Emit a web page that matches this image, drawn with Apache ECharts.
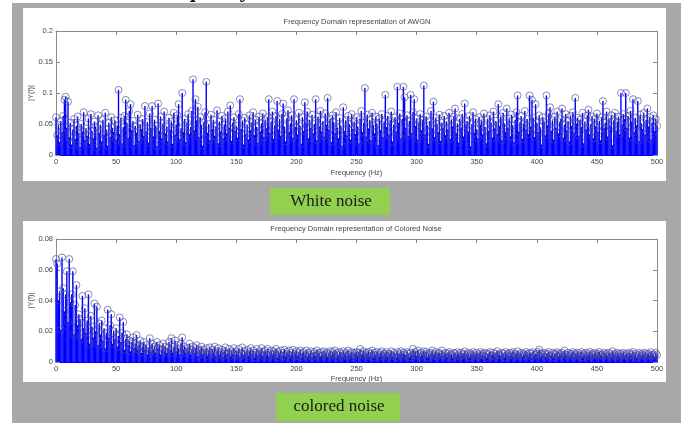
<!DOCTYPE html>
<html><head><meta charset="utf-8">
<script src="https://cdn.jsdelivr.net/npm/echarts@6/dist/echarts.min.js"></script>
<style>html,body{margin:0;padding:0;background:#fff}#c{width:685px;height:423px}</style>
</head><body><div id="c"></div>
<script>
// ---- data ----
const freqTicks = [0, 50, 100, 150, 200, 250, 300, 350, 400, 450, 500];
const whiteYTicks = ['0', '0.05', '0.1', '0.15', '0.2'];
const coloredYTicks = ['0', '0.02', '0.04', '0.06', '0.08'];
const titles = ['Frequency Domain representation of AWGN', 'Frequency Domain representation of Colored Noise'];
const boxLabels = ['White noise', 'colored noise'];
const xName = 'Frequency (Hz)';
const yName = '|Y(f)|';

// |Y(f)| of white noise, one value per Hz, 0..500
const whiteNoise = [
/*0*/   .061,.032,.048,.021,.055, .037,.063,.089,.094,.044, .086,.029,.052,.017,.041, .058,.026,.047,.062,.035, .013,.050,.038,.069,.024,
/*25*/  .043,.031,.059,.018,.066, .039,.027,.054,.046,.012, .064,.036,.049,.022,.057, .033,.068,.041,.015,.052, .029,.061,.044,.037,.056,
/*50*/  .025,.048,.105,.034,.060, .019,.045,.063,.089,.052, .028,.071,.082,.040,.055, .016,.047,.036,.065,.023, .050,.042,.058,.031,.079,
/*75*/  .038,.053,.020,.067,.044, .079,.030,.057,.047,.014, .083,.039,.062,.027,.051, .070,.035,.046,.022,.060, .041,.054,.018,.068,.033,
/*100*/ .049,.064,.082,.026,.043, .100,.037,.058,.021,.052, .066,.034,.045,.071,.122, .040,.090,.056,.078,.029, .061,.048,.015,.053,.069,
/*125*/ .118,.036,.050,.024,.065, .042,.057,.031,.046,.072, .019,.054,.038,.063,.027, .049,.059,.035,.070,.044, .080,.023,.052,.061,.039,
/*150*/ .047,.028,.066,.090,.042, .055,.017,.060,.034,.049, .025,.064,.040,.053,.069, .032,.057,.045,.020,.062, .038,.051,.067,.029,.056,
/*175*/ .043,.061,.090,.036,.054, .070,.026,.048,.063,.087, .041,.058,.031,.066,.083, .046,.022,.059,.072,.037, .051,.064,.028,.090,.045,
/*200*/ .056,.033,.068,.047,.018, .061,.039,.085,.052,.070, .027,.057,.044,.065,.035, .050,.090,.024,.062,.046, .071,.038,.055,.030,.067,
/*225*/ .049,.092,.041,.058,.021, .064,.053,.036,.069,.044, .027,.060,.047,.015,.077, .039,.056,.032,.063,.050, .025,.066,.042,.054,.034,
/*250*/ .061,.046,.019,.058,.071, .037,.052,.108,.030,.065, .043,.057,.024,.068,.048, .035,.062,.051,.016,.059, .040,.066,.029,.054,.097,
/*275*/ .045,.063,.033,.056,.070, .022,.049,.061,.038,.110, .052,.067,.027,.058,.110, .093,.044,.064,.031,.055, .097,.036,.069,.090,.047,
/*300*/ .059,.025,.053,.066,.040, .057,.112,.034,.062,.048, .018,.055,.071,.043,.086, .029,.060,.050,.037,.065, .023,.052,.044,.063,.032,
/*325*/ .054,.041,.068,.026,.057, .046,.062,.075,.035,.051, .020,.059,.044,.066,.030, .083,.048,.055,.038,.063, .014,.050,.069,.036,.058,
/*350*/ .042,.027,.061,.049,.056, .033,.067,.045,.019,.058, .039,.064,.052,.028,.070, .043,.055,.034,.082,.047, .062,.024,.068,.051,.037,
/*375*/ .075,.044,.059,.030,.065, .048,.021,.057,.069,.096, .038,.053,.063,.026,.050, .071,.041,.058,.034,.096, .046,.089,.060,.029,.082,
/*400*/ .052,.037,.064,.045,.017, .061,.054,.032,.096,.048, .067,.077,.039,.056,.025, .062,.044,.070,.035,.053, .058,.075,.028,.049,.066,
/*425*/ .040,.055,.022,.063,.047, .069,.036,.092,.051,.060, .031,.057,.045,.068,.019, .054,.041,.064,.073,.033, .050,.062,.027,.058,.046,
/*450*/ .067,.038,.055,.024,.061, .087,.043,.052,.070,.030, .059,.047,.064,.016,.056, .068,.039,.053,.062,.034, .100,.049,.066,.058,.100,
/*475*/ .044,.063,.028,.071,.054, .090,.037,.060,.048,.087, .023,.065,.051,.042,.068, .033,.057,.075,.046,.061, .025,.053,.064,.039,.058,
/*500*/ .047
];

// |Y(f)| of colored noise, one value per Hz, 0..500
const coloredNoise = [
/*0*/   .067,.064,.040,.046,.021, .068,.048,.033,.044,.059, .026,.067,.039,.044,.059, .018,.037,.050,.024,.031, .028,.015,.043,.022,.035,
/*25*/  .019,.027,.044,.012,.030, .023,.016,.038,.020,.036, .011,.025,.018,.027,.014, .022,.009,.019,.034,.016, .024,.031,.012,.020,.015,
/*50*/  .022,.010,.017,.029,.013, .019,.026,.008,.015,.018, .011,.014,.007,.013,.016, .009,.012,.0175,.008,.011, .014,.006,.010,.013,.008,
/*75*/  .011,.005,.009,.0155,.007, .012,.008,.010,.006,.013, .009,.011,.005,.008,.012, .007,.010,.006,.009,.013, .008,.0155,.006,.010,.014,
/*100*/ .007,.011,.009,.005,.012, .016,.008,.010,.006,.009, .007,.012,.005,.008,.010, .006,.009,.011,.004,.008, .007,.010,.005,.008,.006,
/*125*/ .009,.004,.007,.0095,.005, .008,.006,.010,.004,.007, .009,.005,.0065,.008,.0035, .007,.0095,.005,.006,.0085, .004,.007,.0055,.009,.0045,
/*150*/ .007,.005,.0085,.0035,.006, .0095,.0045,.007,.0055,.008, .004,.0065,.009,.005,.0075, .003,.006,.0085,.0045,.007, .0055,.009,.004,.0065,.0075,
/*175*/ .005,.0085,.0035,.006,.0075, .0045,.007,.0055,.0085,.003, .0065,.005,.0075,.004,.006, .008,.0035,.0065,.005,.0075, .0045,.006,.008,.0035,.0055,
/*200*/ .007,.004,.006,.0075,.003, .0055,.0065,.0045,.0075,.0035, .006,.005,.007,.003,.0055, .0065,.004,.0075,.005,.006, .0035,.0065,.0045,.007,.005,
/*225*/ .006,.0035,.0055,.007,.004, .0065,.005,.0075,.003,.006, .0045,.0065,.0055,.0035,.007, .005,.006,.004,.0075,.0045, .0055,.0065,.003,.006,.005,
/*250*/ .0065,.004,.006,.0085,.0045, .0055,.007,.0035,.006,.005, .0065,.004,.0055,.0075,.003, .006,.0045,.0065,.005,.0035, .006,.007,.004,.0055,.005,
/*275*/ .0065,.0035,.0055,.0045,.007, .004,.006,.005,.003,.0065, .0045,.0055,.007,.0035,.006, .005,.004,.0065,.0055,.003, .006,.0045,.0085,.005,.0065,
/*300*/ .004,.0075,.0055,.0035,.006, .0045,.007,.005,.0065,.003, .0055,.0045,.006,.0075,.004, .005,.0065,.0035,.0055,.006, .0045,.0075,.004,.005,.006,
/*325*/ .0035,.0055,.0065,.0045,.005, .003,.006,.0055,.004,.0065, .005,.0035,.006,.0045,.0055, .007,.004,.005,.006,.003, .0055,.0045,.0065,.005,.004,
/*350*/ .006,.0035,.005,.0065,.0045, .0055,.004,.006,.003,.0055, .005,.0065,.004,.0045,.006, .0035,.0055,.007,.0045,.005, .004,.006,.0055,.003,.0065,
/*375*/ .0045,.0055,.004,.006,.005, .0065,.0035,.0055,.0045,.007, .004,.005,.006,.0035,.0055, .0045,.0065,.005,.004,.006, .0055,.003,.0065,.0045,.0055,
/*400*/ .005,.0065,.008,.004,.0055, .0045,.006,.0035,.0055,.005, .0065,.004,.0045,.006,.003, .0055,.005,.0065,.004,.0055, .0045,.006,.0035,.0075,.005,
/*425*/ .0045,.006,.004,.0055,.005, .0065,.0035,.0055,.0045,.006, .004,.005,.0065,.003,.0055, .0045,.006,.004,.005,.0065, .0035,.0055,.0045,.006,.005,
/*450*/ .004,.0055,.0065,.0045,.005, .0035,.006,.0045,.0055,.004, .006,.005,.0035,.007,.0045, .0055,.004,.006,.005,.0035, .0055,.0045,.006,.004,.005,
/*475*/ .0055,.0035,.006,.0045,.005, .0065,.004,.0055,.003,.0045, .006,.005,.004,.0055,.0045, .006,.0035,.005,.0055,.004, .0065,.0045,.005,.0035,.006,
/*500*/ .0045
];

// ---- chart ----
const FONT = '"Liberation Sans", Arial, sans-serif';
const SERIF = '"Liberation Serif", "Times New Roman", serif';
const AX = '#8a8a8a', TXT = '#444';
const grids = [
  {left: 56, top: 31, width: 601, height: 124},
  {left: 56, top: 239, width: 601, height: 123}
];
const yTickSets = [whiteYTicks, coloredYTicks];
const nameGaps = [14, 13];

const xAxes = [], yAxes = [], series = [];
[whiteNoise, coloredNoise].forEach((vals, g) => {
  const labels = yTickSets[g];
  const ymax = parseFloat(labels[labels.length - 1]);
  const yint = parseFloat(labels[1]);
  xAxes.push({
    gridIndex: g, type: 'value', position: 'bottom',
    min: freqTicks[0], max: freqTicks[freqTicks.length - 1], interval: freqTicks[1] - freqTicks[0],
    name: xName, nameLocation: 'middle', nameGap: nameGaps[g], nameMoveOverlap: false,
    nameTextStyle: {fontSize: 7.5, color: TXT, fontFamily: FONT},
    axisLine: {show: true, onZero: false, lineStyle: {color: '#0000ff', width: 1}},
    axisTick: {show: true, inside: true, length: 4, lineStyle: {color: AX}},
    axisLabel: {fontSize: 7.5, color: TXT, fontFamily: FONT, margin: 3},
    splitLine: {show: false}
  });
  xAxes.push({
    gridIndex: g, type: 'value', position: 'top',
    min: freqTicks[0], max: freqTicks[freqTicks.length - 1], interval: freqTicks[1] - freqTicks[0],
    axisLine: {show: true, onZero: false, lineStyle: {color: AX}},
    axisTick: {show: true, inside: true, length: 4, lineStyle: {color: AX}},
    axisLabel: {show: false}, splitLine: {show: false}
  });
  yAxes.push({
    gridIndex: g, type: 'value', position: 'left', min: 0, max: ymax, interval: yint,
    name: yName, nameLocation: 'middle', nameGap: 21, nameMoveOverlap: false,
    nameTextStyle: {fontSize: 7.5, color: TXT, fontFamily: FONT},
    axisLine: {show: true, onZero: false, lineStyle: {color: AX}},
    axisTick: {show: true, inside: true, length: 4, lineStyle: {color: AX}},
    axisLabel: {fontSize: 7.5, color: TXT, fontFamily: FONT, margin: 3,
      formatter: (v, i) => labels[i] !== undefined ? labels[i] : String(v)},
    splitLine: {show: false}
  });
  yAxes.push({
    gridIndex: g, type: 'value', position: 'right', min: 0, max: ymax, interval: yint,
    axisLine: {show: true, onZero: false, lineStyle: {color: AX}},
    axisTick: {show: true, inside: true, length: 4, lineStyle: {color: AX}},
    axisLabel: {show: false}, splitLine: {show: false}
  });
  const pts = vals.map((v, i) => [i, v]);
  series.push({
    type: 'bar', xAxisIndex: g * 2, yAxisIndex: g * 2, data: pts,
    barWidth: 1.4, itemStyle: {color: '#0000ff'}, silent: true, z: 2
  });
  series.push({
    type: 'scatter', xAxisIndex: g * 2, yAxisIndex: g * 2, data: pts,
    symbol: 'circle', symbolSize: 7, silent: true, z: 3,
    itemStyle: {color: 'rgba(0,0,0,0)', borderColor: 'rgba(70,70,160,0.8)', borderWidth: 1}
  });
});

const graphic = [
  {type: 'rect', z: -10, shape: {x: 12, y: 3, width: 669, height: 420}, style: {fill: '#a8a8a8'}},
  {type: 'rect', z: -9, shape: {x: 23, y: 8, width: 643, height: 173}, style: {fill: '#ffffff'}},
  {type: 'rect', z: -9, shape: {x: 23, y: 221, width: 643, height: 161}, style: {fill: '#ffffff'}},
  {type: 'text', z: 50, x: 151, y: -9, style: {text: 'Frequency', font: 'bold 22px ' + SERIF, fill: '#111', verticalAlign: 'middle'}},
  {type: 'text', z: 50, x: 357, y: 22, style: {text: titles[0], font: '7.5px ' + FONT, fill: TXT, align: 'center', verticalAlign: 'middle'}},
  {type: 'text', z: 50, x: 356, y: 229, style: {text: titles[1], font: '7.5px ' + FONT, fill: TXT, align: 'center', verticalAlign: 'middle'}},
  {type: 'rect', z: 100, shape: {x: 23, y: 382, width: 643, height: 41}, style: {fill: '#a8a8a8'}},
  {type: 'rect', z: 101, shape: {x: 270, y: 188, width: 120, height: 27}, style: {fill: '#92d050'}},
  {type: 'text', z: 102, x: 331, y: 202, style: {text: boxLabels[0], font: '17px ' + SERIF, fill: '#1a1a1a', align: 'center', verticalAlign: 'middle'}},
  {type: 'rect', z: 101, shape: {x: 276, y: 393, width: 124, height: 28}, style: {fill: '#92d050'}},
  {type: 'text', z: 102, x: 339, y: 407, style: {text: boxLabels[1], font: '17px ' + SERIF, fill: '#1a1a1a', align: 'center', verticalAlign: 'middle'}}
];

const chart = echarts.init(document.getElementById('c'), null, {renderer: 'canvas'});
chart.setOption({
  animation: false,
  backgroundColor: '#ffffff',
  grid: grids,
  xAxis: xAxes,
  yAxis: yAxes,
  series: series,
  graphic: graphic
});
</script>
</body></html>
